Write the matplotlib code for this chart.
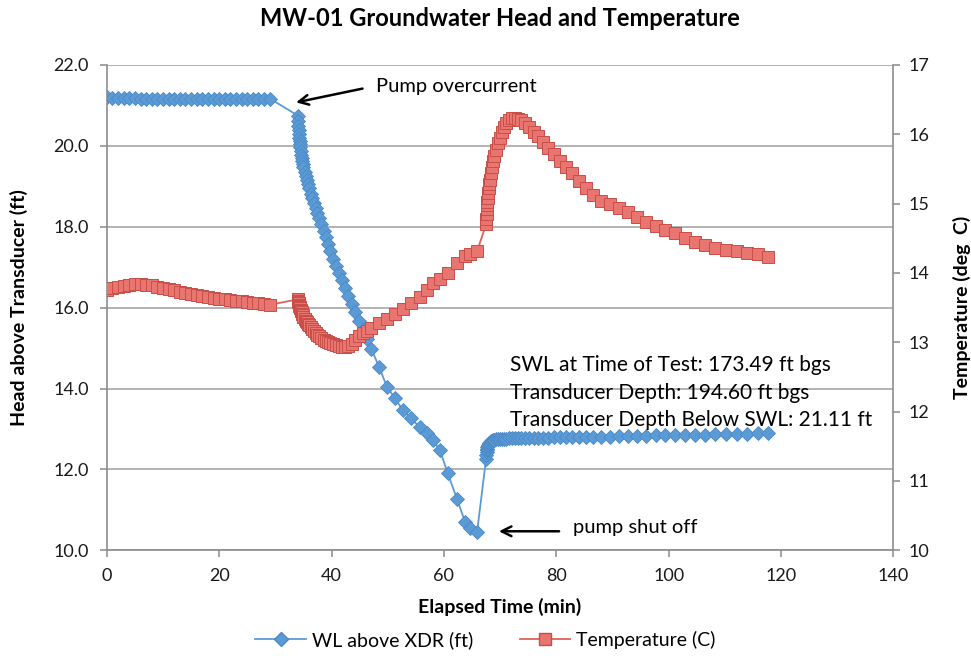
import matplotlib
matplotlib.use("Agg")
import matplotlib.pyplot as plt
from matplotlib.lines import Line2D

plt.rcParams['font.family'] = ['Lato', 'DejaVu Sans']

# --- data ---
# before pumping (1 min logging)
pre_t = [0, 1, 2, 3, 4, 5, 6, 7, 8, 9, 10, 11, 12, 13, 14,
         15, 16, 17, 18, 19, 20, 21, 22, 23, 24, 25, 26, 27, 28, 29]
pre_head = [21.22, 21.19, 21.18, 21.18, 21.18, 21.18, 21.17, 21.17, 21.17, 21.17,
            21.17, 21.17, 21.17, 21.17, 21.17, 21.17, 21.17, 21.17, 21.17, 21.17,
            21.17, 21.17, 21.17, 21.17, 21.17, 21.17, 21.17, 21.17, 21.17, 21.17]
pre_temp = [13.75, 13.78, 13.80, 13.81, 13.83, 13.84, 13.84, 13.83, 13.82, 13.80,
            13.79, 13.77, 13.75, 13.73, 13.71, 13.70, 13.68, 13.67, 13.65, 13.64,
            13.63, 13.62, 13.61, 13.60, 13.59, 13.58, 13.57, 13.56, 13.55, 13.54]

# pumping (log logging)
pump_t = [34.0, 34.05, 34.1, 34.15, 34.2, 34.25, 34.3, 34.35, 34.4, 34.5,
          34.6, 34.7, 34.8, 34.9, 35.0, 35.2, 35.4, 35.6, 35.8, 36.0,
          36.3, 36.6, 36.9, 37.2, 37.5, 37.8, 38.2, 38.6, 39.0, 39.4,
          39.8, 40.3, 40.8, 41.3, 41.8, 42.4, 43.0, 43.6, 44.2, 44.9,
          45.6, 46.3, 47.1, 48.5, 49.9, 51.3, 52.7, 54.2, 55.7, 57.0,
          58.1, 59.3, 60.7, 62.3, 63.8, 64.7, 65.9]
pump_head = [20.75, 20.62, 20.50, 20.39, 20.29, 20.20, 20.12, 20.05, 19.98, 19.87,
             19.78, 19.70, 19.62, 19.55, 19.48, 19.36, 19.25, 19.15, 19.05, 18.95,
             18.82, 18.70, 18.58, 18.46, 18.34, 18.22, 18.06, 17.90, 17.74, 17.57,
             17.40, 17.20, 17.03, 16.86, 16.69, 16.49, 16.29, 16.09, 15.89, 15.66,
             15.44, 15.22, 14.98, 14.52, 14.03, 13.76, 13.46, 13.26, 13.04, 12.89,
             12.72, 12.47, 11.90, 11.28, 10.69, 10.56, 10.44]
pump_temp = [13.62, 13.60, 13.58, 13.56, 13.54, 13.53, 13.51, 13.50, 13.49, 13.47,
             13.45, 13.43, 13.41, 13.39, 13.37, 13.34, 13.31, 13.29, 13.27, 13.25,
             13.22, 13.19, 13.16, 13.13, 13.11, 13.09, 13.06, 13.04, 13.02, 13.00,
             12.99, 12.97, 12.96, 12.94, 12.93, 12.93, 12.95, 12.98, 13.03, 13.09,
             13.13, 13.17, 13.21, 13.28, 13.34, 13.41, 13.48, 13.57, 13.65, 13.76,
             13.85, 13.92, 14.00, 14.14, 14.24, 14.28, 14.31]

# recovery
rec_t = [67.5, 67.55, 67.6, 67.65, 67.7, 67.75, 67.8, 67.9, 68.0, 68.1,
         68.2, 68.4, 68.6, 68.8, 69.0, 69.3, 69.6, 69.9, 70.3, 70.7,
         71.1, 71.6, 72.1, 72.6, 73.2, 73.8, 74.5, 75.2, 76.0, 76.8,
         77.7, 78.6, 79.6, 80.6, 81.7, 82.8, 84.0, 85.3, 86.6, 88.0,
         89.5, 91.1, 92.7, 94.3, 96.0, 97.7, 99.4, 101.1, 102.9, 104.7,
         106.5, 108.3, 110.2, 112.1, 114.0, 115.9, 117.7]
rec_head = [12.25, 12.35, 12.42, 12.47, 12.51, 12.55, 12.58, 12.61, 12.63, 12.65,
            12.67, 12.69, 12.71, 12.72, 12.73, 12.74, 12.75, 12.75, 12.76, 12.76,
            12.76, 12.77, 12.77, 12.77, 12.77, 12.77, 12.77, 12.78, 12.78, 12.78,
            12.78, 12.78, 12.79, 12.79, 12.79, 12.79, 12.80, 12.80, 12.80, 12.81,
            12.81, 12.82, 12.82, 12.83, 12.83, 12.84, 12.84, 12.85, 12.85, 12.86,
            12.86, 12.87, 12.87, 12.88, 12.88, 12.89, 12.89]
rec_temp = [14.70, 14.78, 14.85, 14.92, 14.98, 15.03, 15.08, 15.15, 15.22, 15.28,
            15.34, 15.44, 15.53, 15.61, 15.68, 15.78, 15.87, 15.95, 16.04, 16.11,
            16.17, 16.21, 16.23, 16.23, 16.22, 16.20, 16.16, 16.11, 16.04, 15.97,
            15.89, 15.80, 15.71, 15.62, 15.53, 15.44, 15.33, 15.22, 15.12, 15.04,
            14.99, 14.94, 14.88, 14.81, 14.74, 14.68, 14.62, 14.57, 14.50, 14.45,
            14.40, 14.36, 14.33, 14.31, 14.29, 14.27, 14.23]

info_lines = ["SWL at Time of Test: 173.49 ft bgs",
              "Transducer Depth: 194.60 ft bgs",
              "Transducer Depth Below SWL: 21.11 ft"]

t = pre_t + pump_t + rec_t
head = pre_head + pump_head + rec_head
temp = pre_temp + pump_temp + rec_temp

blue = "#5B9BD5"
blue_edge = "#4A88C6"
red = "#E0605A"
red_face = "#E97570"
red_edge = "#C94E48"
grid_c = "#A6A6A6"
spine_c = "#8C8C8C"

fig = plt.figure(figsize=(9.71, 6.63), dpi=100)
ax = fig.add_axes([0.110, 0.170, 0.810, 0.732])
ax2 = ax.twinx()

ax.plot(t, head, color=blue, lw=1.3, marker="D", ms=6.8,
        mfc=blue, mec=blue_edge, mew=0.6, zorder=3)
ax2.plot(t, temp, color=red, lw=1.3, marker="s", ms=8,
         mfc=red_face, mec=red_edge, mew=0.7, zorder=3)

ax.set_xlim(0, 140)
ax.set_ylim(10, 22)
ax2.set_ylim(10, 17)
ax.set_xticks(range(0, 141, 20))
ax.set_yticks([10, 12, 14, 16, 18, 20, 22])
ax.set_yticklabels([f"{v:.1f}" for v in [10, 12, 14, 16, 18, 20, 22]])
ax2.set_yticks(range(10, 18))

ax.yaxis.grid(True, color=grid_c, lw=1.2)
ax.set_axisbelow(True)

for a in (ax, ax2):
    a.spines["top"].set_visible(False)
    for s in ("left", "right", "bottom"):
        a.spines[s].set_color(spine_c)
        a.spines[s].set_linewidth(1.2)
    a.tick_params(direction="out", length=5, width=1.1, color=spine_c,
                  labelsize=13, labelcolor="#1a1a1a")
ax.tick_params(axis="x", pad=8)
ax.tick_params(axis="y", pad=8)
ax2.tick_params(axis="y", pad=6)
ax.spines["right"].set_visible(False)
ax2.spines["left"].set_visible(False)
ax2.spines["bottom"].set_visible(False)

ax.set_title("MW-01 Groundwater Head and Temperature", fontsize=17,
             fontweight="bold", pad=28)
ax.set_xlabel("Elapsed Time (min)", fontsize=14, fontweight="bold", labelpad=10)
ax.set_ylabel("Head above Transducer (ft)", fontsize=14, fontweight="bold", labelpad=18)
ax2.set_ylabel("Temperature (deg  C)", fontsize=14, fontweight="bold", labelpad=17)

# annotations
arrow = dict(arrowstyle="->,head_length=0.7,head_width=0.35", color="black", lw=1.8)
ax.annotate("", xy=(33.2, 21.06), xytext=(46.0, 21.43), arrowprops=arrow)
ax.text(47.9, 21.48, "Pump overcurrent", fontsize=14.5, va="center", ha="left")
ax.annotate("", xy=(69.3, 10.47), xytext=(81.0, 10.47), arrowprops=arrow)
ax.text(83.0, 10.56, "pump shut off", fontsize=14.5, va="center", ha="left")

for i, line in enumerate(info_lines):
    ax.text(71.8, 14.57 - i * 0.68, line, fontsize=15, va="center", ha="left")

handles = [Line2D([], [], color=blue, lw=1.3, marker="D", ms=6.8, mfc=blue, mec=blue_edge),
           Line2D([], [], color=red, lw=1.3, marker="s", ms=8, mfc=red_face, mec=red_edge)]
fig.legend(handles, ["WL above XDR (ft)", "Temperature (C)"], loc="lower center",
           bbox_to_anchor=(0.5, -0.005), ncol=2, frameon=False, fontsize=14,
           handlelength=2.6, handletextpad=0.3, columnspacing=2.4)

fig.savefig("out.png", dpi=100)
